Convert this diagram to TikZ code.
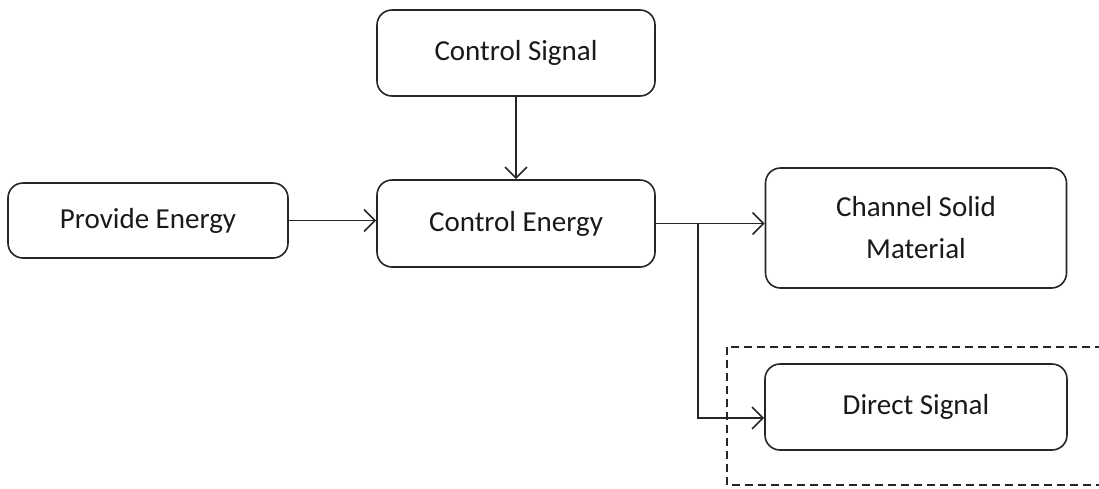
\documentclass[tikz,border=0pt]{standalone}
\usepackage{fontspec}
\setmainfont{Carlito}
\usetikzlibrary{arrows.meta}
\begin{document}
\begin{tikzpicture}[x=1pt,y=-1pt,
  box/.style={draw=black!85,line width=1.6pt,rounded corners=15pt,inner sep=0pt,
    font=\fontsize{29}{42}\selectfont,align=center,text=black!90},
  arr/.style={draw=black!85,line width=1.6pt,-{Straight Barb[length=11pt,width=22pt,line width=1.6pt]}}]
\useasboundingbox (0,0) rectangle (1099,488);
\node[box,minimum width=278pt,minimum height=86pt] (cs) at (516,53) {Control Signal};
\node[box,minimum width=278pt,minimum height=87pt] (ce) at (516,223.5) {Control Energy};
\node[box,minimum width=280pt,minimum height=75pt] (pe) at (148,220.5) {Provide Energy};
\node[box,minimum width=301pt,minimum height=120pt] (ch) at (916,228) {Channel Solid\\Material};
\node[box,minimum width=302pt,minimum height=86pt] (ds) at (916,407) {Direct Signal};
\coordinate (br) at (698,223.5);
\draw[arr] (cs.south) -- (ce.north);
\draw[arr] (pe.east) -- (pe.east -| ce.west);
\draw[arr] (ce.east) -- (ce.east -| ch.west);
\draw[arr] (br) |- ([yshift=-11pt]ds.west);
\draw[draw=black!85,line width=1.6pt,dash pattern=on 8pt off 5pt] (727,347) rectangle (1115,485);
\end{tikzpicture}
\end{document}
